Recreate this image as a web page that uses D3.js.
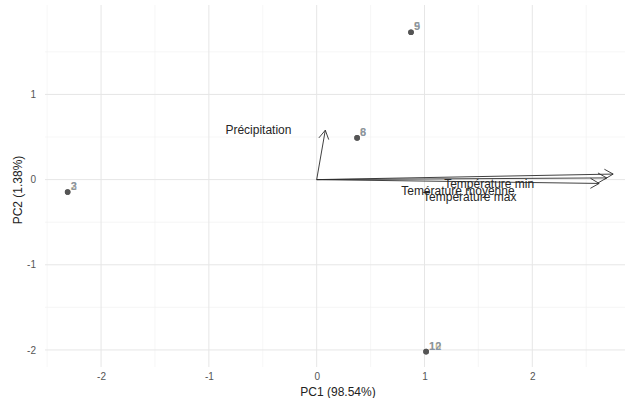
<!DOCTYPE html>
<html>
<head>
<meta charset="utf-8">
<script src="https://cdn.jsdelivr.net/npm/d3@7"></script>
<style>
  html, body { margin: 0; padding: 0; background: #ffffff; }
  svg { display: block; font-family: "Liberation Sans", Arial, sans-serif; }
</style>
</head>
<body>
<svg id="chart" width="634" height="398"></svg>
<script>
// Observation scores on the first two principal components
const obsIds = ["2", "3", "6", "8", "5", "9", "10", "12"];
const obsPc1 = [-2.31, -2.31, 0.375, 0.375, 0.875, 0.875, 1.015, 1.015];
const obsPc2 = [-0.145, -0.145, 0.49, 0.49, 1.73, 1.73, -2.02, -2.02];
const obsGroup = [0, 1, 0, 1, 0, 1, 0, 1];

// Variable loadings (arrows) and where their names are written
const varNames = ["Précipitation", "Température min", "Temérature moyenne", "Température max"];
const varPc1 = [0.08, 2.75, 2.69, 2.62];
const varPc2 = [0.58, 0.065, 0.02, -0.045];
const varLabelPc1 = [-0.54, 1.6, 1.31, 1.42];
const varLabelPc2 = [0.58, -0.05, -0.13, -0.2];

const xTicks = [-2, -1, 0, 1, 2];
const yTicks = [-2, -1, 0, 1];
const xTitle = "PC1 (98.54%)";
const yTitle = "PC2 (1.38%)";

const svg = d3.select("#chart");
const panel = { left: 45, right: 625, top: 5, bottom: 367 };

const x = d3.scaleLinear().domain([-2.52, 2.86]).range([panel.left, panel.right]);
const y = d3.scaleLinear().domain([-2.2, 2.05]).range([panel.bottom, panel.top]);

// grid: minor lines at half units, major at ticks
const minorX = d3.range(-2.5, 2.86, 0.5).filter(v => !Number.isInteger(v));
const minorY = d3.range(-2.0, 2.05, 0.5).filter(v => !Number.isInteger(v));
const grid = svg.append("g");
grid.selectAll(".mx").data(minorX).join("line")
  .attr("x1", d => x(d)).attr("x2", d => x(d))
  .attr("y1", panel.top).attr("y2", panel.bottom)
  .attr("stroke", "#f0f0f0").attr("stroke-width", 0.6);
grid.selectAll(".my").data(minorY).join("line")
  .attr("y1", d => y(d)).attr("y2", d => y(d))
  .attr("x1", panel.left).attr("x2", panel.right)
  .attr("stroke", "#f0f0f0").attr("stroke-width", 0.6);
grid.selectAll(".gx").data(xTicks).join("line")
  .attr("x1", d => x(d)).attr("x2", d => x(d))
  .attr("y1", panel.top).attr("y2", panel.bottom)
  .attr("stroke", "#e6e6e6").attr("stroke-width", 1);
grid.selectAll(".gy").data(yTicks).join("line")
  .attr("y1", d => y(d)).attr("y2", d => y(d))
  .attr("x1", panel.left).attr("x2", panel.right)
  .attr("stroke", "#e6e6e6").attr("stroke-width", 1);

// axes (text only, theme without axis lines)
const xAxis = svg.append("g")
  .attr("transform", `translate(0,${panel.bottom})`)
  .call(d3.axisBottom(x).tickValues(xTicks).tickSize(0).tickPadding(6));
const yAxis = svg.append("g")
  .attr("transform", `translate(${panel.left},0)`)
  .call(d3.axisLeft(y).tickValues(yTicks).tickSize(0).tickPadding(9));
[xAxis, yAxis].forEach(a => {
  a.select(".domain").remove();
  a.selectAll("text").attr("fill", "#555555").style("font-size", "10px")
    .style("font-family", "'Liberation Sans', Arial, sans-serif")
    .text(d => d < 0 ? "-" + Math.abs(d) : String(d));
});

svg.append("text")
  .attr("x", (panel.left + panel.right) / 2 + 3).attr("y", 396)
  .attr("text-anchor", "middle").attr("font-size", 12).attr("fill", "#222")
  .text(xTitle);
svg.append("text")
  .attr("transform", `translate(22,${(panel.top + panel.bottom) / 2 + 4}) rotate(-90)`)
  .attr("text-anchor", "middle").attr("font-size", 12).attr("fill", "#222")
  .text(yTitle);

// loading arrows with open heads
const arrows = svg.append("g");
varNames.forEach((name, i) => {
  const x0 = x(0), y0 = y(0), x1 = x(varPc1[i]), y1 = y(varPc2[i]);
  const ang = Math.atan2(y1 - y0, x1 - x0);
  const len = 10, spread = Math.PI / 6;
  arrows.append("line")
    .attr("x1", x0).attr("y1", y0).attr("x2", x1).attr("y2", y1)
    .attr("stroke", "#2b2b2b").attr("stroke-width", 0.9);
  arrows.append("path")
    .attr("d", `M${x1 - len * Math.cos(ang - spread)},${y1 - len * Math.sin(ang - spread)}L${x1},${y1}L${x1 - len * Math.cos(ang + spread)},${y1 - len * Math.sin(ang + spread)}`)
    .attr("fill", "none").attr("stroke", "#2b2b2b").attr("stroke-width", 0.9);
});

// observation points
svg.append("g").selectAll("circle").data(obsIds).join("circle")
  .attr("cx", (d, i) => x(obsPc1[i])).attr("cy", (d, i) => y(obsPc2[i]))
  .attr("r", 2.8).attr("fill", "#555555");

// observation labels, overlapping where points coincide
const labelColors = ["#c2ab6a", "#7488a8"];
svg.append("g").selectAll("text").data(obsIds).join("text")
  .attr("x", (d, i) => x(obsPc1[i]) + 3)
  .attr("y", (d, i) => y(obsPc2[i]) - 2)
  .attr("font-size", 11).attr("font-weight", "bold")
  .attr("fill", (d, i) => labelColors[obsGroup[i]])
  .attr("fill-opacity", 0.8)
  .text(d => d);

// variable names
svg.append("g").selectAll("text").data(varNames).join("text")
  .attr("x", (d, i) => x(varLabelPc1[i]))
  .attr("y", (d, i) => y(varLabelPc2[i]) + 4)
  .attr("text-anchor", "middle").attr("font-size", 12).attr("fill", "#262626")
  .text(d => d);
</script>
</body>
</html>
